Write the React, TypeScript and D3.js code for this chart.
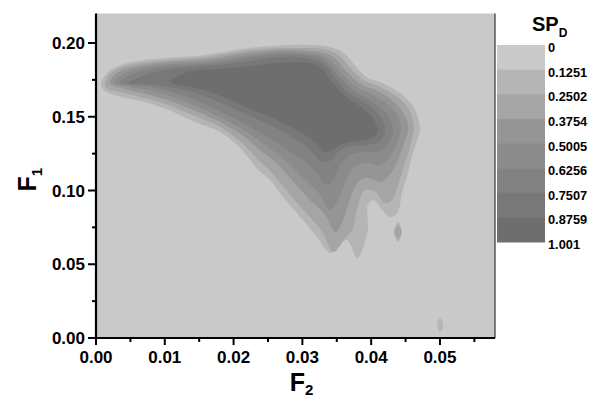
import React from 'react';
import * as d3 from 'd3';

// ---- data ----
const F2_TICKS = [0, 0.01, 0.02, 0.03, 0.04, 0.05];
const F2_MINOR = [0.005, 0.015, 0.025, 0.035, 0.045, 0.055];
const F1_TICKS = [0, 0.05, 0.1, 0.15, 0.2];
const F1_MINOR = [0.025, 0.075, 0.125, 0.175];
const LEVELS = [0, 0.1251, 0.2502, 0.3754, 0.5005, 0.6256, 0.7507, 0.8759, 1.001];
const LEVEL_LABELS = ['0', '0.1251', '0.2502', '0.3754', '0.5005', '0.6256', '0.7507', '0.8759', '1.001'];
const BAND_COLORS = ['#c9c9c9', '#b5b5b5', '#a5a5a5', '#959595', '#8b8b8b', '#828282', '#787878', '#6e6e6e'];

type P = [number, number];
// contour regions (F2, F1) where SP_D exceeds LEVELS[k]
const CONTOUR_1: P[] = [
  [0.0007, 0.1722], [0.0015, 0.179], [0.0032, 0.1844], [0.0071, 0.1885], [0.0122, 0.1905], [0.0158, 0.1919],
  [0.0202, 0.1953], [0.0238, 0.1973], [0.0282, 0.1987], [0.034, 0.1973], [0.0362, 0.1926], [0.0377, 0.1844],
  [0.0395, 0.1763], [0.0413, 0.1736], [0.0442, 0.1661], [0.0461, 0.1573], [0.0471, 0.1424], [0.0467, 0.1342],
  [0.0459, 0.1227], [0.0452, 0.1092], [0.0445, 0.099], [0.0438, 0.0848], [0.0427, 0.082], [0.0413, 0.0888],
  [0.0403, 0.0936], [0.0395, 0.0902], [0.0395, 0.0732], [0.038, 0.0542], [0.0365, 0.0664], [0.035, 0.0617],
  [0.034, 0.0576], [0.0321, 0.0685], [0.0297, 0.082], [0.0272, 0.0956], [0.0253, 0.1071], [0.0236, 0.1139],
  [0.0212, 0.1275], [0.0183, 0.139], [0.0144, 0.1464], [0.0105, 0.1546], [0.0071, 0.16], [0.0032, 0.1641],
  [0.0013, 0.1675],
];
const CONTOUR_2: P[] = [
  [0.0013, 0.1722], [0.002, 0.179], [0.0038, 0.1837], [0.0076, 0.1871], [0.0125, 0.1892], [0.0161, 0.1905],
  [0.0205, 0.1939], [0.0241, 0.1959], [0.0282, 0.1966], [0.0337, 0.1953], [0.0356, 0.1905], [0.0371, 0.1824],
  [0.0391, 0.1742], [0.041, 0.1709], [0.0436, 0.1641], [0.0454, 0.1559], [0.0462, 0.1424], [0.0457, 0.1309],
  [0.0448, 0.1173], [0.0439, 0.1037], [0.043, 0.0936], [0.042, 0.0915], [0.0406, 0.099], [0.0391, 0.1003],
  [0.0381, 0.0902], [0.0372, 0.0732], [0.0362, 0.0678], [0.0345, 0.0583], [0.0329, 0.0719], [0.0304, 0.0854],
  [0.0279, 0.099], [0.0256, 0.1119], [0.0236, 0.1207], [0.0212, 0.1322], [0.0183, 0.1424], [0.0144, 0.1505],
  [0.0105, 0.158], [0.0071, 0.1627], [0.0035, 0.1668], [0.0017, 0.1688],
];
const CONTOUR_3: P[] = [
  [0.002, 0.1729], [0.0026, 0.1783], [0.0044, 0.1824], [0.0079, 0.1858], [0.0128, 0.1878], [0.0166, 0.1892],
  [0.0209, 0.1926], [0.0246, 0.1946], [0.0282, 0.1953], [0.0333, 0.1932], [0.035, 0.1885], [0.0365, 0.1803],
  [0.0387, 0.1715], [0.0406, 0.1681], [0.043, 0.1614], [0.0446, 0.1532], [0.0454, 0.1424], [0.0448, 0.1322],
  [0.0439, 0.1207], [0.0427, 0.1105], [0.0413, 0.1058], [0.0395, 0.1085], [0.0381, 0.1058], [0.0369, 0.0936],
  [0.0358, 0.0786], [0.0348, 0.0719], [0.0333, 0.0834], [0.0308, 0.0949], [0.0285, 0.1071], [0.0262, 0.1187],
  [0.0238, 0.1275], [0.0214, 0.137], [0.0183, 0.1458], [0.0145, 0.1539], [0.0108, 0.1607], [0.0073, 0.1654],
  [0.0038, 0.1695],
];
const CONTOUR_4: P[] = [
  [0.0026, 0.1729], [0.0033, 0.177], [0.0049, 0.181], [0.0083, 0.1844], [0.0131, 0.1865], [0.017, 0.1878],
  [0.0214, 0.1912], [0.025, 0.1932], [0.0285, 0.1939], [0.0329, 0.1912], [0.0345, 0.1865], [0.0359, 0.1783],
  [0.0381, 0.1695], [0.04, 0.1654], [0.0423, 0.1587], [0.0438, 0.1512], [0.0443, 0.1424], [0.0438, 0.1329],
  [0.0427, 0.1227], [0.0413, 0.1173], [0.0395, 0.1187], [0.0378, 0.1166], [0.0364, 0.1071], [0.0352, 0.0936],
  [0.034, 0.0868], [0.0326, 0.097], [0.0304, 0.1071], [0.0282, 0.1173], [0.026, 0.1261], [0.0238, 0.1336],
  [0.0215, 0.141], [0.0183, 0.1492], [0.0145, 0.1573], [0.0111, 0.1634], [0.0076, 0.1681], [0.0044, 0.1709],
];
const CONTOUR_5: P[] = [
  [0.0033, 0.1729], [0.0041, 0.1763], [0.0057, 0.1797], [0.0089, 0.1831], [0.0134, 0.1851], [0.0174, 0.1865],
  [0.0218, 0.1898], [0.0253, 0.1919], [0.0288, 0.1926], [0.0326, 0.1898], [0.034, 0.1844], [0.0355, 0.1763],
  [0.0375, 0.1675], [0.0393, 0.1627], [0.0414, 0.1559], [0.0427, 0.1492], [0.0432, 0.141], [0.0425, 0.1322],
  [0.0411, 0.1261], [0.0394, 0.1261], [0.0372, 0.1248], [0.0356, 0.118], [0.0345, 0.1071], [0.0334, 0.1037],
  [0.032, 0.1125], [0.03, 0.1207], [0.0279, 0.1275], [0.0257, 0.1342], [0.0236, 0.1397], [0.0214, 0.1458],
  [0.0183, 0.1532], [0.0148, 0.1607], [0.0115, 0.1661], [0.0081, 0.1702], [0.0049, 0.1715],
];
const CONTOUR_6: P[] = [
  [0.0047, 0.1729], [0.0057, 0.1756], [0.0093, 0.181], [0.0137, 0.1837], [0.0177, 0.1851], [0.0221, 0.1878],
  [0.0256, 0.1898], [0.0291, 0.1905], [0.0323, 0.1878], [0.0337, 0.1831], [0.035, 0.1749], [0.0369, 0.1654],
  [0.0387, 0.1607], [0.0406, 0.1539], [0.0417, 0.1471], [0.042, 0.1397], [0.0411, 0.1329], [0.0395, 0.1309],
  [0.0372, 0.1302], [0.0355, 0.1275], [0.0342, 0.1207], [0.0329, 0.1193], [0.0311, 0.1275], [0.0291, 0.1342],
  [0.027, 0.1403], [0.025, 0.1451], [0.0224, 0.1505], [0.0192, 0.1573], [0.0158, 0.1641], [0.0122, 0.1688],
  [0.0086, 0.1715],
];
const CONTOUR_7: P[] = [
  [0.0108, 0.1736], [0.0129, 0.1797], [0.0151, 0.1817], [0.0183, 0.1824], [0.0224, 0.1844], [0.026, 0.1865],
  [0.0294, 0.1871], [0.032, 0.1851], [0.0333, 0.1803], [0.0345, 0.1722], [0.0364, 0.1634], [0.0381, 0.158],
  [0.0398, 0.1519], [0.0407, 0.1451], [0.0409, 0.139], [0.0398, 0.1349], [0.0378, 0.1336], [0.0358, 0.1315],
  [0.0343, 0.1275], [0.0333, 0.1261], [0.0318, 0.1329], [0.0297, 0.1397], [0.0275, 0.1451], [0.025, 0.1505],
  [0.0224, 0.1553], [0.0195, 0.1614], [0.0166, 0.1668], [0.0137, 0.1702],
];
const SPOT_A_1: P[] = [[0.0439, 0.0786], [0.0445, 0.0719], [0.0439, 0.0651], [0.0433, 0.0719]];
const SPOT_A_2: P[] = [[0.0439, 0.0766], [0.0444, 0.0719], [0.0439, 0.0671], [0.0434, 0.0719]];
const SPOT_B_1: P[] = [[0.05, 0.0136], [0.0505, 0.0088], [0.05, 0.0041], [0.0496, 0.0088]];

const REGIONS: { level: number; pts: P[] }[] = [
  { level: 1, pts: CONTOUR_1 }, { level: 2, pts: CONTOUR_2 }, { level: 3, pts: CONTOUR_3 },
  { level: 4, pts: CONTOUR_4 }, { level: 5, pts: CONTOUR_5 }, { level: 6, pts: CONTOUR_6 },
  { level: 7, pts: CONTOUR_7 }, { level: 1, pts: SPOT_A_1 }, { level: 2, pts: SPOT_A_2 },
  { level: 1, pts: SPOT_B_1 },
];

const FONT = "'Liberation Sans', Arial, Helvetica, sans-serif";

export default function App() {
  const W = 590, H = 398;
  const x = d3.scaleLinear().domain([0, 0.058]).range([96, 495]);
  const y = d3.scaleLinear().domain([0, 0.22]).range([338, 13.5]);
  const line = d3.line<P>().x(d => x(d[0])).y(d => y(d[1])).curve(d3.curveCatmullRomClosed.alpha(0.5));
  const cb = d3.scaleLinear().domain([0, 1.001]).range([45, 242]);
  const cbX0 = 497, cbX1 = 545;
  const [x0, x1] = x.range();
  const [yb, yt] = y.range();

  return (
    <svg width={W} height={H} style={{ position: 'absolute', left: 0, top: 0, background: '#fff' }}
      fontFamily={FONT} fontWeight="bold">
      <defs>
        <clipPath id="plotclip"><rect x={x0} y={yt} width={x1 - x0} height={yb - yt} /></clipPath>
      </defs>
      <rect x={x0} y={yt} width={x1 - x0} height={yb - yt} fill={BAND_COLORS[0]} />
      <g clipPath="url(#plotclip)">
        {REGIONS.map((r, i) => (
          <path key={i} d={line(r.pts) || ''} fill={BAND_COLORS[r.level]} stroke="none" />
        ))}
      </g>
      {/* right frame line */}
      <line x1={x1} x2={x1} y1={yt} y2={yb} stroke="#333" strokeWidth={1.2} />
      {/* axes */}
      <line x1={x0} x2={x0} y1={yt} y2={yb + 1} stroke="#000" strokeWidth={2.2} />
      <line x1={x0 - 1} x2={x1} y1={yb} y2={yb} stroke="#000" strokeWidth={2.2} />
      {F1_TICKS.map(t => (
        <g key={'ym' + t}>
          <line x1={x0 - 8} x2={x0} y1={y(t)} y2={y(t)} stroke="#000" strokeWidth={2} />
          <text x={x0 - 11} y={y(t) + 6} textAnchor="end" fontSize={17}>{t.toFixed(2)}</text>
        </g>
      ))}
      {F1_MINOR.map(t => (
        <line key={'yn' + t} x1={x0 - 4} x2={x0} y1={y(t)} y2={y(t)} stroke="#000" strokeWidth={2} />
      ))}
      {F2_TICKS.map(t => (
        <g key={'xm' + t}>
          <line x1={x(t)} x2={x(t)} y1={yb} y2={yb + 7} stroke="#000" strokeWidth={2} />
          <text x={x(t)} y={363} textAnchor="middle" fontSize={17}>{t.toFixed(2)}</text>
        </g>
      ))}
      {F2_MINOR.map(t => (
        <line key={'xn' + t} x1={x(t)} x2={x(t)} y1={yb} y2={yb + 4} stroke="#000" strokeWidth={2} />
      ))}
      {/* axis titles */}
      <text transform={`translate(36, ${(yb + yt) / 2 + 4}) rotate(-90)`} textAnchor="middle" fontSize={25}>
        F<tspan fontSize={15} dy={6}>1</tspan>
      </text>
      <text x={(x0 + x1) / 2 + 6} y={391} textAnchor="middle" fontSize={25}>
        F<tspan fontSize={15} dy={4}>2</tspan>
      </text>
      {/* color bar */}
      {BAND_COLORS.map((c, i) => (
        <rect key={'cb' + i} x={cbX0} y={cb(LEVELS[i])} width={cbX1 - cbX0}
          height={cb(LEVELS[i + 1]) - cb(LEVELS[i]) + 0.5} fill={c} />
      ))}
      {LEVELS.map((v, i) => (
        <text key={'cl' + i} x={548} y={cb(v) + 7} fontSize={12.8}>{LEVEL_LABELS[i]}</text>
      ))}
      <text x={532} y={31} fontSize={20}>SP<tspan fontSize={12} dy={6}>D</tspan></text>
    </svg>
  );
}
